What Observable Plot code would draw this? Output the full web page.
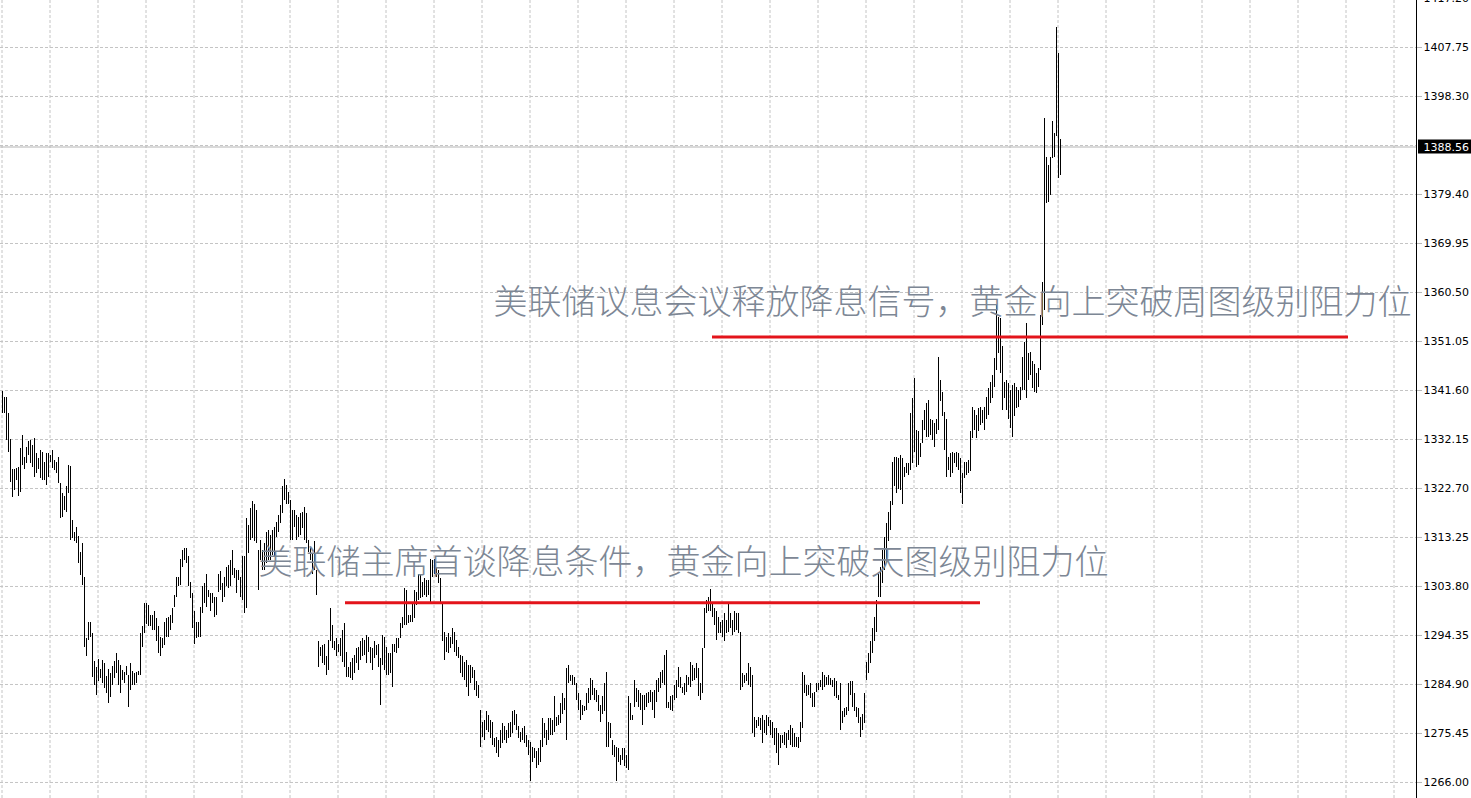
<!DOCTYPE html>
<html>
<head>
<meta charset="utf-8">
<script src="https://cdn.jsdelivr.net/npm/d3@7"></script>
<script src="https://cdn.jsdelivr.net/npm/@observablehq/plot@0.6"></script>
<style>
  html, body { margin: 0; padding: 0; background: #ffffff; }
  #chart svg { display: block; }
</style>
</head>
<body>
<div id="chart"></div>
<script>
// ---- Data: 4H gold bars (high / low) ----
const high = [
1341.5,1340.3,1340.2,1337.2,1332.2,1326.4,1326.4,1326.6,1326.7,1330.5,
1332.9,1328.6,1330.7,1331.8,1332.0,1331.0,1332.3,1329.4,1328.4,1330.0,
1329.7,1327.8,1329.5,1329.5,1329.1,1330.0,1328.1,1327.8,1328.6,1323.6,
1321.7,1321.2,1323.0,1327.1,1326.9,1316.5,1314.3,1315.2,1313.4,1310.4,
1312.0,1305.6,1293.7,1296.8,1296.8,1294.7,1289.3,1288.2,1289.8,1287.7,
1289.5,1288.9,1286.4,1287.7,1287.1,1288.4,1289.4,1290.9,1289.5,1288.6,
1287.6,1287.3,1288.4,1286.6,1288.9,1287.4,1287.0,1287.3,1287.4,1294.7,
1296.0,1300.5,1300.6,1300.1,1298.2,1298.2,1298.9,1297.6,1296.0,1293.9,
1293.8,1296.9,1297.6,1297.9,1298.2,1299.5,1302.1,1305.6,1305.5,1309.1,
1310.7,1311.1,1311.1,1309.5,1304.6,1302.4,1298.9,1296.9,1296.9,1299.8,
1303.7,1304.3,1306.2,1303.0,1302.4,1302.4,1301.7,1301.7,1306.2,1306.6,
1304.3,1305.6,1307.5,1307.9,1308.8,1310.7,1307.2,1306.9,1306.9,1305.6,
1309.5,1309.5,1316.9,1315.6,1318.8,1320.1,1319.7,1318.5,1310.7,1312.7,
1310.7,1312.0,1314.3,1314.6,1313.6,1314.6,1315.2,1316.2,1317.5,1319.4,
1323.0,1324.4,1323.3,1322.0,1320.4,1318.5,1318.5,1317.5,1317.2,1317.8,
1318.1,1319.1,1317.8,1312.7,1311.4,1310.1,1312.4,1306.9,1293.1,1292.1,
1292.4,1292.7,1290.2,1293.4,1299.5,1296.3,1293.1,1293.7,1292.7,1293.7,
1295.3,1296.6,1291.1,1288.2,1289.2,
1289.9,1290.5,1291.8,1292.1,1293.1,1293.7,1293.4,1294.4,1294.0,1292.1,
1291.8,1293.1,1292.4,1292.7,1289.9,1294.4,1294.0,1292.1,1290.8,1290.8,
1292.7,1292.7,1293.7,1293.7,1296.6,1297.9,1303.4,1303.0,1298.2,1298.2,
1300.5,1303.0,1302.7,1306.2,1305.9,1304.6,1305.3,1305.0,1305.0,1309.1,
1308.8,1309.1,1307.5,1306.9,1305.3,1300.8,1295.0,1294.0,1294.7,1294.0,
1295.6,1295.0,1293.4,1292.1,1290.5,1290.2,1289.2,1289.5,1288.6,1288.6,
1288.2,1287.6,1285.4,1284.7,1279.9,1277.6,1278.0,1279.6,1278.9,1278.0,
1277.6,1274.4,1274.7,1274.1,1276.0,1277.3,1276.7,1276.0,1277.3,1277.6,
1279.6,1279.9,1279.2,1276.7,1275.7,1276.4,1276.7,1275.1,1274.1,1273.8,
1272.8,1272.5,1271.9,1272.5,1274.1,1278.3,1277.3,1276.0,1278.3,1278.3,
1278.0,1282.5,1278.6,1278.9,1281.2,1283.1,1282.1,1287.9,1288.6,1286.6,
1286.6,1286.3,1285.0,1283.1,1281.8,1280.9,1280.6,1283.1,1284.1,1286.0,
1285.7,1284.1,1283.7,1282.8,1280.9,1282.5,1285.0,1287.3,1277.6,1277.3,
1274.1,1273.1,1272.8,1272.5,1271.2,1272.5,1272.5,1271.2,1282.5,1281.2,
1278.9,1285.7,1284.1,1283.7,1283.1,1282.8,1282.8,1283.1,1283.4,1283.7,
1283.4,1283.7,1285.7,1286.0,1287.3,1287.6,1290.5,1291.5,1281.5,1282.5,
1282.8,1284.7,1285.7,1288.2,1286.3,
1284.4,1285.0,1286.6,1286.3,1289.2,1288.6,1287.9,1288.9,1287.9,1285.0,
1291.8,1299.5,1301.1,1301.7,1303.2,1300.8,1299.5,1298.9,1297.9,1296.9,
1297.2,1298.5,1297.2,1300.5,1298.5,1297.2,1298.9,1298.5,1298.5,1295.0,
1287.0,1286.6,1287.0,1288.9,1288.2,1286.6,1278.6,1278.0,1278.6,1278.3,
1278.9,1278.0,1278.9,1278.6,1278.0,1277.6,1276.4,1276.4,1275.4,1275.1,
1275.1,1275.7,1275.4,1276.0,1277.0,1276.4,1275.4,1274.7,1274.7,1277.6,
1287.3,1286.6,1284.7,1284.7,1285.0,1283.1,1283.4,1285.0,1285.0,1285.7,
1287.3,1286.6,1286.3,1286.6,1286.0,1285.7,1286.0,1285.4,1282.8,1285.0,
1279.6,1280.2,1280.5,1285.0,1285.4,1285.4,1283.1,1280.5,1280.2,1278.6,
1279.2,1283.1,1289.2,1290.8,1293.1,1295.6,1297.9,1301.1,1306.2,1307.5,
1310.7,1313.3,1315.9,1318.1,1320.1,1327.8,1328.7,1328.7,1328.4,1329.1,
1328.4,1326.8,1327.5,1327.5,1337.1,1340.0,1343.9,1333.9,1333.6,1331.3,
1335.8,1337.7,1339.0,1339.7,1336.1,1335.8,1335.2,1336.1,1348.0,1343.5,
1341.3,1337.4,1336.1,1328.7,1329.4,1329.7,1329.4,1329.7,1329.4,1328.4,
1325.5,1327.8,1327.8,1328.1,1333.6,
1338.4,1337.7,1336.8,1338.1,1338.4,1337.7,1338.4,1340.3,1341.9,1343.2,
1344.5,1347.7,1358.0,1355.7,1355.4,1350.0,1343.2,1343.5,1342.9,1341.6,
1342.6,1342.9,1342.2,1341.6,1342.2,1348.0,1350.9,1354.5,1348.7,1349.0,
1347.1,1346.7,1344.8,1345.8,1356.1,1362.5,1394.0,1386.6,1385.0,1386.6,
1393.4,1391.1,1411.7,1406.5,1390.1
];
const low = [
1337.2,1337.1,1332.0,1329.7,1323.9,1320.9,1322.3,1324.2,1321.2,1322.0,
1327.1,1326.4,1327.5,1329.1,1327.6,1326.8,1324.9,1325.5,1326.3,1324.6,
1324.2,1324.2,1323.3,1324.9,1327.8,1326.5,1326.2,1325.5,1323.6,1316.9,
1317.2,1318.5,1318.0,1321.7,1312.7,1313.0,1312.4,1312.0,1308.2,1305.9,
1304.0,1292.1,1290.2,1293.4,1294.0,1286.3,1284.7,1282.8,1285.4,1286.0,
1285.0,1284.1,1283.1,1281.2,1282.3,1284.7,1286.0,1287.1,1284.7,1283.2,
1285.7,1285.0,1286.6,1280.5,1283.7,1284.7,1284.7,1285.0,1286.6,1286.6,
1292.1,1294.7,1296.5,1296.0,1296.0,1295.3,1295.3,1293.1,1290.8,1290.3,
1291.8,1292.4,1294.0,1294.0,1295.3,1296.6,1299.8,1301.7,1303.7,1304.0,
1307.5,1308.8,1308.2,1303.7,1301.4,1295.6,1292.7,1293.7,1294.0,1294.0,
1298.5,1300.5,1299.8,1301.7,1298.9,1300.5,1297.9,1298.2,1302.7,1303.0,
1300.8,1301.7,1303.7,1303.4,1303.7,1305.9,1305.3,1302.4,1305.0,1301.7,
1301.1,1298.5,1299.5,1310.1,1312.7,1313.0,1312.4,1312.0,1303.0,1308.8,
1306.9,1306.9,1308.2,1308.8,1308.8,1309.8,1309.5,1313.3,1314.3,1315.9,
1317.8,1320.4,1319.7,1319.7,1312.7,1312.7,1315.2,1312.7,1313.3,1313.6,
1314.9,1312.7,1312.0,1310.4,1308.8,1306.2,1306.9,1302.1,1288.2,1290.2,
1288.9,1288.6,1286.6,1287.6,1293.1,1291.8,1291.5,1290.2,1291.1,1290.2,
1289.2,1288.2,1286.3,1286.3,1286.0,
1285.7,1287.0,1288.9,1287.6,1289.5,1290.2,1290.5,1288.9,1291.1,1288.9,
1287.6,1289.9,1290.5,1288.2,1280.9,1288.6,1287.6,1286.6,1286.6,1287.0,
1284.4,1291.1,1290.8,1291.8,1293.7,1295.6,1296.3,1296.3,1296.6,1296.9,
1296.9,1297.6,1300.1,1301.1,1301.4,1301.7,1302.1,1301.7,1302.1,1300.8,
1305.6,1306.2,1305.6,1304.3,1300.8,1293.1,1289.5,1291.1,1290.8,1291.8,
1292.7,1291.1,1290.2,1289.9,1287.0,1286.3,1285.7,1284.4,1282.5,1285.0,
1286.0,1283.7,1282.5,1282.1,1272.8,1274.7,1274.1,1276.0,1275.7,1274.4,
1273.1,1272.8,1271.5,1270.9,1272.5,1273.5,1274.1,1273.5,1274.4,1274.7,
1275.4,1277.0,1276.0,1274.4,1273.8,1274.1,1273.5,1272.8,1271.2,1266.1,
1269.9,1270.6,1268.6,1269.3,1269.9,1272.8,1274.4,1273.1,1274.1,1275.1,
1275.1,1275.7,1276.7,1277.0,1277.3,1279.2,1279.9,1274.1,1285.0,1285.4,
1284.7,1284.7,1281.8,1279.9,1278.0,1278.9,1279.6,1279.9,1281.2,1281.8,
1282.8,1281.8,1281.5,1279.6,1277.6,1279.2,1279.6,1272.8,1272.8,1274.4,
1271.2,1270.9,1266.1,1269.9,1269.3,1270.2,1269.0,1268.6,1268.3,1278.0,
1278.0,1280.5,1281.5,1280.5,1279.9,1277.0,1279.9,1280.5,1281.2,1281.5,
1279.9,1278.3,1281.5,1283.4,1284.1,1285.0,1284.7,1280.2,1280.2,1279.9,
1279.6,1281.8,1282.1,1284.4,1284.1,
1283.1,1282.8,1283.4,1284.7,1284.4,1285.4,1285.7,1286.0,1282.5,1281.8,
1283.1,1291.8,1298.5,1298.9,1298.9,1297.9,1296.3,1293.4,1294.7,1294.7,
1294.0,1293.1,1294.7,1295.0,1295.6,1294.4,1295.0,1295.3,1294.7,1283.7,
1284.4,1285.0,1285.4,1284.7,1284.4,1275.4,1274.7,1276.4,1276.7,1276.0,
1273.5,1275.4,1275.1,1276.7,1275.1,1274.4,1273.1,1271.5,1269.3,1272.5,
1273.5,1273.1,1272.5,1274.1,1273.1,1272.8,1272.8,1272.8,1272.5,1273.8,
1276.4,1283.1,1282.5,1282.8,1282.1,1280.5,1280.5,1283.4,1283.7,1284.4,
1283.7,1284.4,1284.7,1284.7,1284.7,1284.4,1282.5,1282.1,1281.8,1276.0,
1277.3,1278.6,1278.9,1279.6,1282.8,1280.5,1279.6,1278.6,1277.3,1274.7,
1276.0,1277.3,1285.7,1287.0,1288.9,1290.8,1293.1,1295.0,1301.7,1301.7,
1304.3,1306.9,1308.2,1312.4,1314.6,1319.4,1323.0,1321.7,1322.6,1322.3,
1319.7,1324.9,1325.5,1325.2,1326.2,1327.5,1329.7,1326.8,1327.1,1328.7,
1331.3,1333.9,1332.6,1332.6,1332.9,1332.0,1330.7,1333.2,1333.9,1339.4,
1336.5,1330.0,1324.9,1326.2,1324.9,1325.5,1327.5,1326.8,1326.2,1321.7,
1319.7,1324.6,1325.2,1325.5,1325.9,
1332.3,1333.9,1332.3,1333.6,1334.9,1335.2,1333.9,1336.1,1336.8,1339.0,
1340.0,1342.2,1345.5,1348.7,1344.8,1337.7,1340.0,1337.7,1336.1,1334.2,
1332.6,1336.5,1338.1,1338.4,1339.7,1341.6,1341.6,1340.0,1343.5,1344.5,
1341.9,1341.3,1341.0,1342.2,1345.5,1354.1,1357.0,1377.6,1377.9,1379.2,
1386.3,1386.6,1390.5,1382.4,1383.1
];

// Price axis labels (MT4 style, 9.45 step)
const yTickValues = [1266.00,1275.45,1284.90,1294.35,1303.80,1313.25,1322.70,1332.15,1341.60,1351.05,1360.50,1369.95,1379.40,1398.30,1407.75,1417.20];
const yGridValues = [1266.00,1275.45,1284.90,1294.35,1303.80,1313.25,1322.70,1332.15,1341.60,1351.05,1360.50,1369.95,1379.40,1388.85,1398.30,1407.75];
const lastPrice = 1388.56;

// Resistance lines (price, first bar, last bar)
const levelPrice = [1300.65, 1351.9];
const levelFrom  = [171.75, 355.25];
const levelTo    = [489.25, 673.25];

// Annotations
const noteText  = ["美联储主席首谈降息条件，黄金向上突破天图级别阻力位", "美联储议息会议释放降息信号，黄金向上突破周图级别阻力位"];
const noteBar   = [128.25, 245.75];
const notePrice = [1308.3, 1358.4];

// ---- Build tables ----
const bars = high.map((h, i) => ({i, high: h, low: low[i]}));
const levels = levelPrice.map((p, k) => ({p, x1: levelFrom[k], x2: levelTo[k]}));
const notes = noteText.map((t, k) => ({t, x: noteBar[k], y: notePrice[k]}));

const xDomain = [-0.75, 707.25];
const yDomain = [1262.909, 1416.815];
const pxPerUnit = 798 / (yDomain[1] - yDomain[0]);
const gridX = d3.range(0, xDomain[1], 24);

const chart = Plot.plot({
  width: 1471,
  height: 798,
  marginLeft: 0,
  marginRight: 55,
  marginTop: 0,
  marginBottom: 0,
  style: {background: "#ffffff", overflow: "visible"},
  x: {domain: xDomain, axis: null},
  y: {domain: yDomain},
  marks: [
    Plot.ruleX(gridX, {stroke: "#c4c4c4", strokeDasharray: "3,2", strokeWidth: 1}),
    Plot.ruleY(yGridValues, {stroke: "#c4c4c4", strokeDasharray: "3,2", strokeWidth: 1}),
    Plot.ruleY([lastPrice], {stroke: "#b4b4b4", strokeWidth: 1}),
    Plot.ruleX(bars, {x: "i", y1: "low", y2: "high", stroke: "#000000", strokeWidth: 1, shapeRendering: "crispEdges"}),
    Plot.text(notes, {x: "x", y: "y", text: "t", textAnchor: "start", fontSize: 34,
      fontFamily: "'Noto Sans CJK SC', sans-serif", fontWeight: 300, fill: "#7d8795"}),
    Plot.ruleY(levels, {y: "p", x1: "x1", x2: "x2", stroke: "#e3141b", strokeWidth: 3}),
    Plot.ruleX([xDomain[1]], {stroke: "#000000", strokeWidth: 1}),
    Plot.axisY(yTickValues, {anchor: "right", tickSize: 5, tickPadding: 2, stroke: "#b8b8b8",
      tickFormat: d => d.toFixed(2), fontSize: 11, fontFamily: "'DejaVu Sans', sans-serif", fill: "#000000", label: null}),
    Plot.rect([lastPrice], {x1: xDomain[1] + 1, x2: xDomain[1] + 27.5,
      y1: d => d - 7 / pxPerUnit, y2: d => d + 7 / pxPerUnit, fill: "#000000"}),
    Plot.text([lastPrice], {x: xDomain[1] + 3.5, y: d => d, text: d => d.toFixed(2), textAnchor: "start",
      fill: "#ffffff", fontSize: 11, fontFamily: "'DejaVu Sans', sans-serif"})
  ]
});
document.getElementById("chart").appendChild(chart);
</script>
</body>
</html>
